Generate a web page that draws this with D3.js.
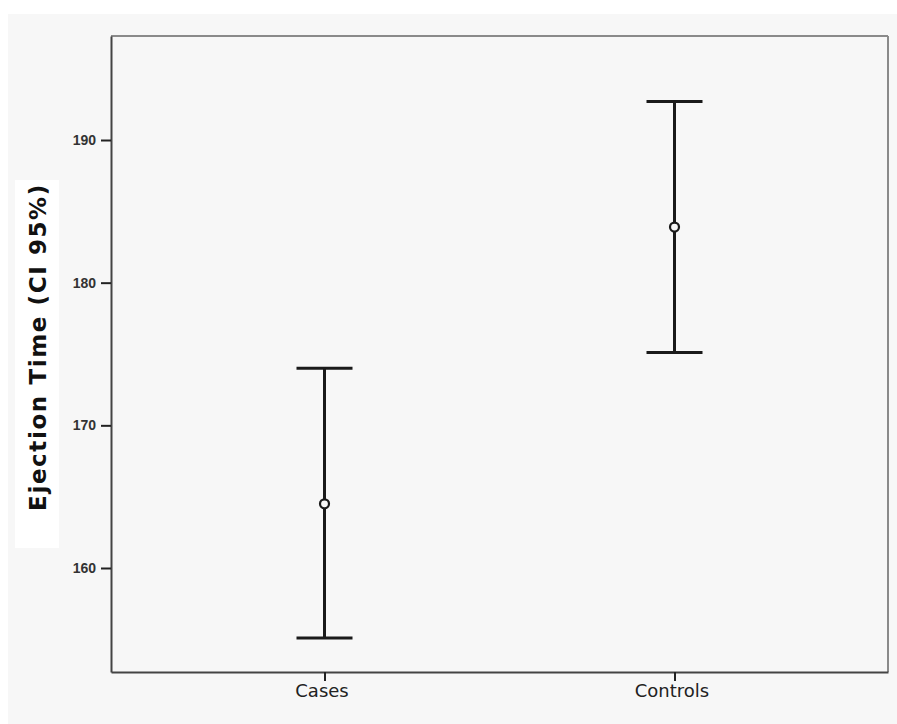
<!DOCTYPE html>
<html><head><meta charset="utf-8">
<script src="https://cdn.jsdelivr.net/npm/d3@7"></script>
<style>body{margin:0;background:#fff;}svg{display:block;}</style>
</head><body>
<svg id="c" width="897" height="724"></svg>
<script>
const categories = ["Cases", "Controls"];
const means = [164.5, 183.9];
const lower = [155.1, 175.1];
const upper = [174.0, 192.7];
const yTicks = [160, 170, 180, 190];
const yTitle = "Ejection Time (CI 95%)";

const svg = d3.select("#c");
const L = 111, R = 888, T = 36, B = 672;

svg.append("rect").attr("x", 8).attr("y", 14).attr("width", 889).attr("height", 710).attr("fill", "#f7f7f7");

const x = d3.scalePoint().domain(categories).range([L, R]).padding(0.61);
const y = d3.scaleLinear().domain([152.71, 197.29]).range([B, T]);

// frame top/right
svg.append("line").attr("x1", L).attr("x2", R).attr("y1", T).attr("y2", T).attr("stroke", "#8a8a8a").attr("stroke-width", 2);
svg.append("line").attr("x1", R).attr("x2", R).attr("y1", T).attr("y2", B).attr("stroke", "#8a8a8a").attr("stroke-width", 2);

// axes
const ya = svg.append("g").attr("transform", `translate(${L},0)`)
  .call(d3.axisLeft(y).tickValues(yTicks).tickSize(10).tickSizeOuter(0).tickFormat(d3.format("d")));
ya.select(".domain").attr("stroke", "#444").attr("stroke-width", 2);
ya.selectAll(".tick line").attr("stroke", "#222").attr("stroke-width", 2);
ya.selectAll(".tick text").attr("font-family", "Liberation Sans, Arial, sans-serif").attr("font-size", 14).attr("font-weight", "bold").attr("fill", "#333").attr("x", -15);

const xa = svg.append("g").attr("transform", `translate(0,${B})`)
  .call(d3.axisBottom(x).tickSize(9).tickSizeOuter(0));
xa.select(".domain").attr("stroke", "#444").attr("stroke-width", 2);
xa.selectAll(".tick line").attr("stroke", "#222").attr("stroke-width", 2);
xa.selectAll(".tick text").attr("font-family", "DejaVu Sans, Verdana, sans-serif").attr("font-size", 18).attr("fill", "#222").attr("y", 12).attr("dx", -3);

// y title box
svg.append("rect").attr("x", 15).attr("y", 180).attr("width", 44).attr("height", 368).attr("fill", "#ffffff");
svg.append("text").attr("transform", `translate(46,${347}) rotate(-90)`)
  .attr("text-anchor", "middle").attr("font-family", "DejaVu Sans, Verdana, sans-serif")
  .attr("font-size", 23).attr("letter-spacing", 1.6).attr("font-weight", "bold").attr("fill", "#111").text(yTitle);

// error bars
const capW = 28;
const g = svg.append("g");
categories.forEach((c, i) => {
  const cx = x(c);
  g.append("line").attr("x1", cx).attr("x2", cx).attr("y1", y(lower[i])).attr("y2", y(upper[i])).attr("stroke", "#1a1a1a").attr("stroke-width", 3);
  g.append("line").attr("x1", cx - capW).attr("x2", cx + capW).attr("y1", y(upper[i])).attr("y2", y(upper[i])).attr("stroke", "#1a1a1a").attr("stroke-width", 3);
  g.append("line").attr("x1", cx - capW).attr("x2", cx + capW).attr("y1", y(lower[i])).attr("y2", y(lower[i])).attr("stroke", "#1a1a1a").attr("stroke-width", 3);
  g.append("circle").attr("cx", cx).attr("cy", y(means[i])).attr("r", 4.5).attr("fill", "#f7f7f7").attr("stroke", "#1a1a1a").attr("stroke-width", 2.2);
});
</script>
</body></html>
